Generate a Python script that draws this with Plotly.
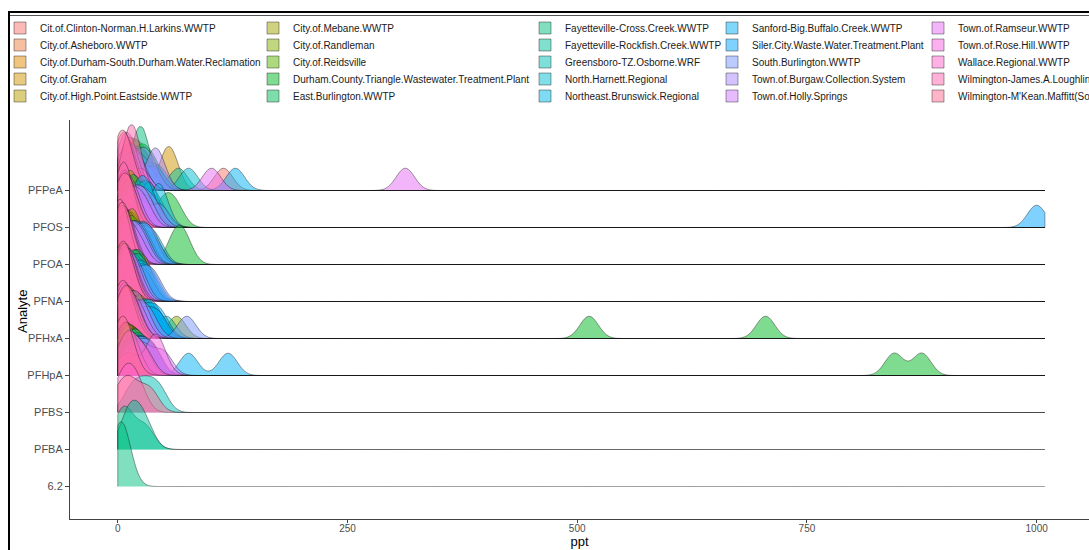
import math
import plotly.graph_objects as go

# Analytes, bottom row last (ridges are stacked top to bottom in this order)
analytes = ["PFPeA", "PFOS", "PFOA", "PFNA", "PFHxA", "PFHpA", "PFBS", "PFBA", "6.2"]

stations = [
    "Cit.of.Clinton-Norman.H.Larkins.WWTP",
    "City.of.Asheboro.WWTP",
    "City.of.Durham-South.Durham.Water.Reclamation",
    "City.of.Graham",
    "City.of.High.Point.Eastside.WWTP",
    "City.of.Mebane.WWTP",
    "City.of.Randleman",
    "City.of.Reidsville",
    "Durham.County.Triangle.Wastewater.Treatment.Plant",
    "East.Burlington.WWTP",
    "Fayetteville-Cross.Creek.WWTP",
    "Fayetteville-Rockfish.Creek.WWTP",
    "Greensboro-TZ.Osborne.WRF",
    "North.Harnett.Regional",
    "Northeast.Brunswick.Regional",
    "Sanford-Big.Buffalo.Creek.WWTP",
    "Siler.City.Waste.Water.Treatment.Plant",
    "South.Burlington.WWTP",
    "Town.of.Burgaw.Collection.System",
    "Town.of.Holly.Springs",
    "Town.of.Ramseur.WWTP",
    "Town.of.Rose.Hill.WWTP",
    "Wallace.Regional.WWTP",
    "Wilmington-James.A.Loughlin.WWTP",
    "Wilmington-M'Kean.Maffitt(South.Side)",
]

# Measured concentrations (ppt), one list per station in the order above; None = not reported
pfpea = [
    [115, 10, 20], [8, 18, 26], [5, 14, 22], [54, 57, 8], [12, 20, 31],
    [6, 15, 28], [10, 22, 35], [4, 16, 30], [18, 27, 40], [9, 21, 33],
    [21, 25, 28], [66, 18, 30], [14, 24, 45], [77, 20, 9], [3, 12, 38],
    [128, 14, 33], [7, 19, 42], [11, 26, 36], [38, 44, 5], [2, 13, 24],
    [102, 313, 25], [4, 9, 17], [1, 6, 14], [13, 15, 17], [0, 5, 11],
]
pfos = [
    [8, 20, 30], [5, 12, 25], [10, 18, 28], [3, 15, 22], [12, 16, 35],
    [6, 14, 20], [9, 22, 31], [4, 11, 27], [48, 62, 5], [7, 17, 24],
    [15, 26, 38], [13, 28, 41], [22, 30, 44], [33, 37, 12], [43, 46, 6],
    [18, 27, 36], [1000, 20, 35], [46, 10, 22], [14, 25, 40], [8, 21, 33],
    [3, 16, 29], [2, 10, 19], [1, 7, 15], [4, 6, 9], [0, 8, 16],
]
pfoa = [
    [2, 10, 18], [4, 12, 20], [6, 15, 24], [3, 9, 21], [5, 13, 26],
    [7, 16, 22], [2, 11, 19], [8, 14, 28], [62, 72, 3], [4, 18, 30],
    [6, 20, 33], [10, 22, 35], [12, 25, 38], [9, 24, 40], [14, 28, 42],
    [11, 26, 36], [7, 19, 31], [13, 27, 39], [5, 17, 29], [3, 15, 27],
    [2, 8, 23], [1, 6, 14], [0, 5, 12], [0, 2, 5], [1, 4, 10],
]
pfna = [
    [3, 10, 20], [5, 14, 25], [2, 12, 22], [7, 16, 28], [26, 30, 8],
    [28, 12, 3], [6, 18, 30], [9, 20, 27], [4, 15, 33], [11, 22, 29],
    [8, 19, 26], [24, 10, 2], [13, 21, 34], [10, 17, 31], [6, 23, 36],
    [5, 16, 32], [12, 24, 38], [9, 26, 40], [3, 14, 24], [2, 9, 18],
    [4, 11, 21], [1, 8, 17], [0, 6, 13], [2, 7, 15], [1, 5, 12],
]
pfhxa = [
    [4, 14, 24], [6, 17, 28], [3, 12, 21], [8, 19, 30], [10, 22, 34],
    [5, 15, 26], [64, 18, 5], [7, 20, 32], [513, 705, 20], [9, 24, 37],
    [12, 26, 40], [14, 29, 44], [53, 15, 8], [11, 27, 39], [13, 30, 42],
    [16, 32, 47], [10, 28, 45], [75, 22, 12], [6, 21, 35], [8, 18, 29],
    [3, 13, 25], [2, 10, 20], [1, 7, 16], [0, 5, 13], [2, 9, 19],
]
pfhpa = [
    [3, 12, 22], [5, 14, 24], [2, 10, 19], [6, 16, 26], [4, 13, 23],
    [7, 17, 28], [3, 11, 21], [8, 18, 30], [845, 875, 22], [5, 15, 27],
    [9, 19, 31], [6, 20, 33], [10, 22, 35], [7, 21, 34], [11, 24, 38],
    [77, 120, 5], [8, 23, 36], [12, 26, 40], [9, 25, 39], [30, 50, 15],
    [4, 14, 28], [37, 45, 10], [1, 8, 18], [6, 14, 30], [0, 5, 12],
]
pfbs = [None] * 12 + [[30, 45, 15]] + [None] * 9 + [[2, 12, 22], None, [3, 16, 35]]
pfba = [None] * 10 + [[3, 10, 30], [10, 18, 30]] + [None] * 13
unknown_62 = [None] * 10 + [[1, 3, 7]] + [None] * 14

values_by_analyte = {
    "PFPeA": pfpea, "PFOS": pfos, "PFOA": pfoa, "PFNA": pfna, "PFHxA": pfhxa,
    "PFHpA": pfhpa, "PFBS": pfbs, "PFBA": pfba, "6.2": unknown_62,
}

x_ticks = [0, 250, 500, 750, 1000]

BANDWIDTH = 10
SPAN = (0, 1009)
RIDGE_SCALE = 1.77      # tallest ridge height, in rows


def hue_colour(h, c=100.0, l=65.0):
    """Polar-Luv (HCL) colour to an (r, g, b) tuple, as used by ggplot's hue palette."""
    xn, yn, zn = 0.95047, 1.0, 1.08883
    un = 4 * xn / (xn + 15 * yn + 3 * zn)
    vn = 9 * yn / (xn + 15 * yn + 3 * zn)
    u = c * math.cos(math.radians(h)) / (13 * l) + un
    v = c * math.sin(math.radians(h)) / (13 * l) + vn
    y = ((l + 16) / 116) ** 3
    x = 9 * y * u / (4 * v)
    z = -x / 3 - 5 * y + 3 * y / v
    lin = (
        3.2404542 * x - 1.5371385 * y - 0.4985314 * z,
        -0.9692660 * x + 1.8760108 * y + 0.0415560 * z,
        0.0556434 * x - 0.2040259 * y + 1.0572252 * z,
    )
    out = []
    for ch in lin:
        ch = 12.92 * ch if ch <= 0.0031308 else 1.055 * ch ** (1 / 2.4) - 0.055
        out.append(int(round(min(max(ch, 0.0), 1.0) * 255)))
    return tuple(out)


def peak_density(vals):
    """Peak of the Gaussian KDE on the same grid plotly samples the violin on."""
    dist = SPAN[1] - SPAN[0]
    n = math.ceil(dist / (BANDWIDTH / 3))
    step = dist / n
    norm = 1 / (len(vals) * BANDWIDTH * math.sqrt(2 * math.pi))
    best = 0.0
    for k in range(n + 1):
        t = SPAN[0] + k * step
        s = sum(math.exp(-0.5 * ((t - v) / BANDWIDTH) ** 2) for v in vals)
        best = max(best, s * norm)
    return best


n_st = len(stations)
palette = [hue_colour(15 + 360 * i / n_st) for i in range(n_st)]

# Shared density scale: every ridge uses the same ppt-density -> height mapping
peaks = {(a, i): peak_density(v) for a in analytes
         for i, v in enumerate(values_by_analyte[a]) if v}
global_peak = max(peaks.values())

W, H = 1089, 550
L, R, T, B = 70, 0, 120, 31
PW, PH = W - L - R, H - T - B
ROW = 37.0                      # pixels between ridge baselines
TOP_BASE = 190.5                # pixel row of the top baseline
y_top = (len(analytes) - 1) + (TOP_BASE - T) / ROW
y_bottom = y_top - PH / ROW

fig = go.Figure()
seen = set()
for analyte in analytes:
    rows = values_by_analyte[analyte]
    for i, vals in enumerate(rows):
        if not vals:
            continue
        r, g, b = palette[i]
        legend_id = "legend" if i == 0 else f"legend{i + 1}"
        fig.add_trace(go.Violin(
            x=vals,
            y=[analyte] * len(vals),
            orientation="h",
            side="positive",
            width=2 * RIDGE_SCALE * peaks[(analyte, i)] / global_peak,
            scalemode="width",
            bandwidth=BANDWIDTH,
            spanmode="manual",
            span=list(SPAN),
            points=False,
            box_visible=False,
            meanline_visible=False,
            fillcolor=f"rgba({r},{g},{b},0.5)",
            line=dict(color="rgba(25,25,25,0.7)", width=0.6),
            name=stations[i],
            legendgroup=stations[i],
            legend=legend_id,
            showlegend=i not in seen,
            hoverinfo="name+x",
        ))
        seen.add(i)

# Legend laid out in five columns of five entries
col_text_x = [40, 293, 565, 752, 958]
row_y = [28, 45, 62, 79, 96]
legends = {}
for i in range(n_st):
    col, row = divmod(i, 5)
    legend_id = "legend" if i == 0 else f"legend{i + 1}"
    legends[legend_id] = dict(
        x=max(col_text_x[col] - 40, 0) / W,
        y=1 - row_y[row] / H,
        xref="container", yref="container",
        xanchor="left", yanchor="middle",
        bgcolor="rgba(0,0,0,0)", borderwidth=0,
        font=dict(family="Liberation Sans, Arial, sans-serif", size=10, color="#1a1a1a"),
    )


def px_x(px):
    return (px - L) / PW


def px_y(py):
    return (H - B - py) / PH


# Page frame around the figure
shapes = [
    dict(type="line", xref="paper", yref="paper", x0=px_x(9), x1=px_x(9), y0=px_y(12), y1=px_y(560),
         line=dict(color="black", width=2)),
    dict(type="line", xref="paper", yref="paper", x0=px_x(8), x1=px_x(1100), y0=px_y(12), y1=px_y(12),
         line=dict(color="black", width=2)),
    dict(type="line", xref="paper", yref="paper", x0=px_x(10), x1=px_x(1100), y0=px_y(15.5), y1=px_y(15.5),
         line=dict(color="#555555", width=1)),
]

annotations = [
    dict(text="Analyte", xref="paper", yref="paper", x=px_x(22), y=px_y(312),
         textangle=-90, showarrow=False, font=dict(size=13, color="black"),
         xanchor="center", yanchor="middle"),
]

fig.update_layout(
    width=W, height=H,
    margin=dict(l=L, r=R, t=T, b=B, autoexpand=False),
    paper_bgcolor="white", plot_bgcolor="white",
    violinmode="overlay", violingap=0, violingroupgap=0,
    font=dict(family="Liberation Sans, Arial, sans-serif", color="#222222"),
    xaxis=dict(
        range=[-52, 1057], tickmode="array", tickvals=x_ticks,
        ticks="outside", ticklen=3, tickcolor="#444444", tickwidth=1,
        ticklabelstandoff=-3,
        showline=True, linecolor="#444444", linewidth=1,
        showgrid=False, zeroline=False,
        tickfont=dict(size=10, color="#4d4d4d"),
        title=dict(text="ppt", font=dict(size=13, color="black"), standoff=0),
    ),
    yaxis=dict(
        type="category", categoryorder="array", categoryarray=analytes[::-1],
        range=[y_bottom, y_top],
        ticks="outside", ticklen=4, tickcolor="#444444", tickwidth=1,
        showline=True, linecolor="#444444", linewidth=1,
        showgrid=False, zeroline=False,
        tickfont=dict(size=11, color="#4d4d4d"),
    ),
    shapes=shapes,
    annotations=annotations,
    **legends,
)

fig.write_html("out.html")
